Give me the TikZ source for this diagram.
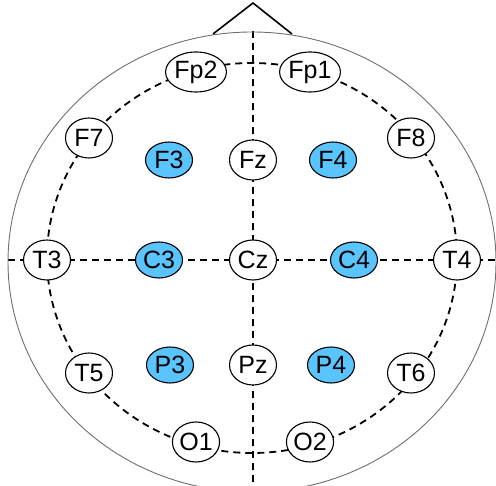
\documentclass[tikz,border=0pt]{standalone}
\usepackage{fontspec}
\setmainfont{Liberation Sans}
\usetikzlibrary{shapes.geometric,backgrounds}
\definecolor{eegblue}{RGB}{90,196,255}
\definecolor{headgray}{RGB}{110,110,110}
\begin{document}
\begin{tikzpicture}[x=1pt,y=-1pt,
  elec/.style={ellipse,draw,line width=1.1pt,fill=white,minimum width=47pt,minimum height=40pt,inner sep=0pt,font=\fontsize{25}{27}\selectfont},
  act/.style={elec,fill=eegblue,minimum height=36pt},
  grid/.style={line width=1.8pt,dash pattern=on 7pt off 5pt},
  head/.style={headgray,line width=0.9pt},
  nose/.style={line width=1.6pt,line join=miter}]
\useasboundingbox (0,0) rectangle (496,486);
\clip (0,0) rectangle (496,486);
% head outline and nose
\draw[head] (252,262) ellipse [x radius=244pt, y radius=230pt];
\coordinate (nl) at (213,34);
\coordinate (nt) at (253,3);
\coordinate (nr) at (292,34);
\draw[nose] (nl) -- (nt) -- (nr);
% electrodes
\node[elec] (Fp2) at (196,72) {Fp2};
\node[elec] (Fp1) at (310,72) {Fp1};
\node[elec] (F7) at (89,138) {F7};
\node[elec] (F8) at (411,138) {F8};
\node[elec] (T3) at (47,260) {T3};
\node[elec] (T4) at (457,260) {T4};
\node[elec] (T5) at (89,373) {T5};
\node[elec] (T6) at (411,373) {T6};
\node[elec] (O1) at (196,442) {O1};
\node[elec] (O2) at (310,442) {O2};
\node[act] (F3) at (169,160) {F3};
\node[elec] (Fz) at (253,160) {Fz};
\node[act] (F4) at (333,160) {F4};
\node[act] (C3) at (159,260) {C3};
\node[elec] (Cz) at (253,260) {Cz};
\node[act] (C4) at (354,260) {C4};
\node[act] (P3) at (170,365) {P3};
\node[elec] (Pz) at (253,365) {Pz};
\node[act] (P4) at (331,365) {P4};
% end points of the midlines
\coordinate (L) at (8,260);
\coordinate (R) at (496,260);
\coordinate (Top) at (253,31);
\coordinate (Bot) at (253,486);
\begin{pgfonlayer}{background}
\draw[grid] (252,258) ellipse [x radius=205pt, y radius=195pt];
\draw[grid] (L) -- (T3.center) -- (C3.center) -- (Cz.center) -- (C4.center) -- (T4.center) -- (R);
\draw[grid] (Top) -- (Fz.center) -- (Cz.center) -- (Pz.center) -- (Bot);
\end{pgfonlayer}
\end{tikzpicture}
\end{document}
